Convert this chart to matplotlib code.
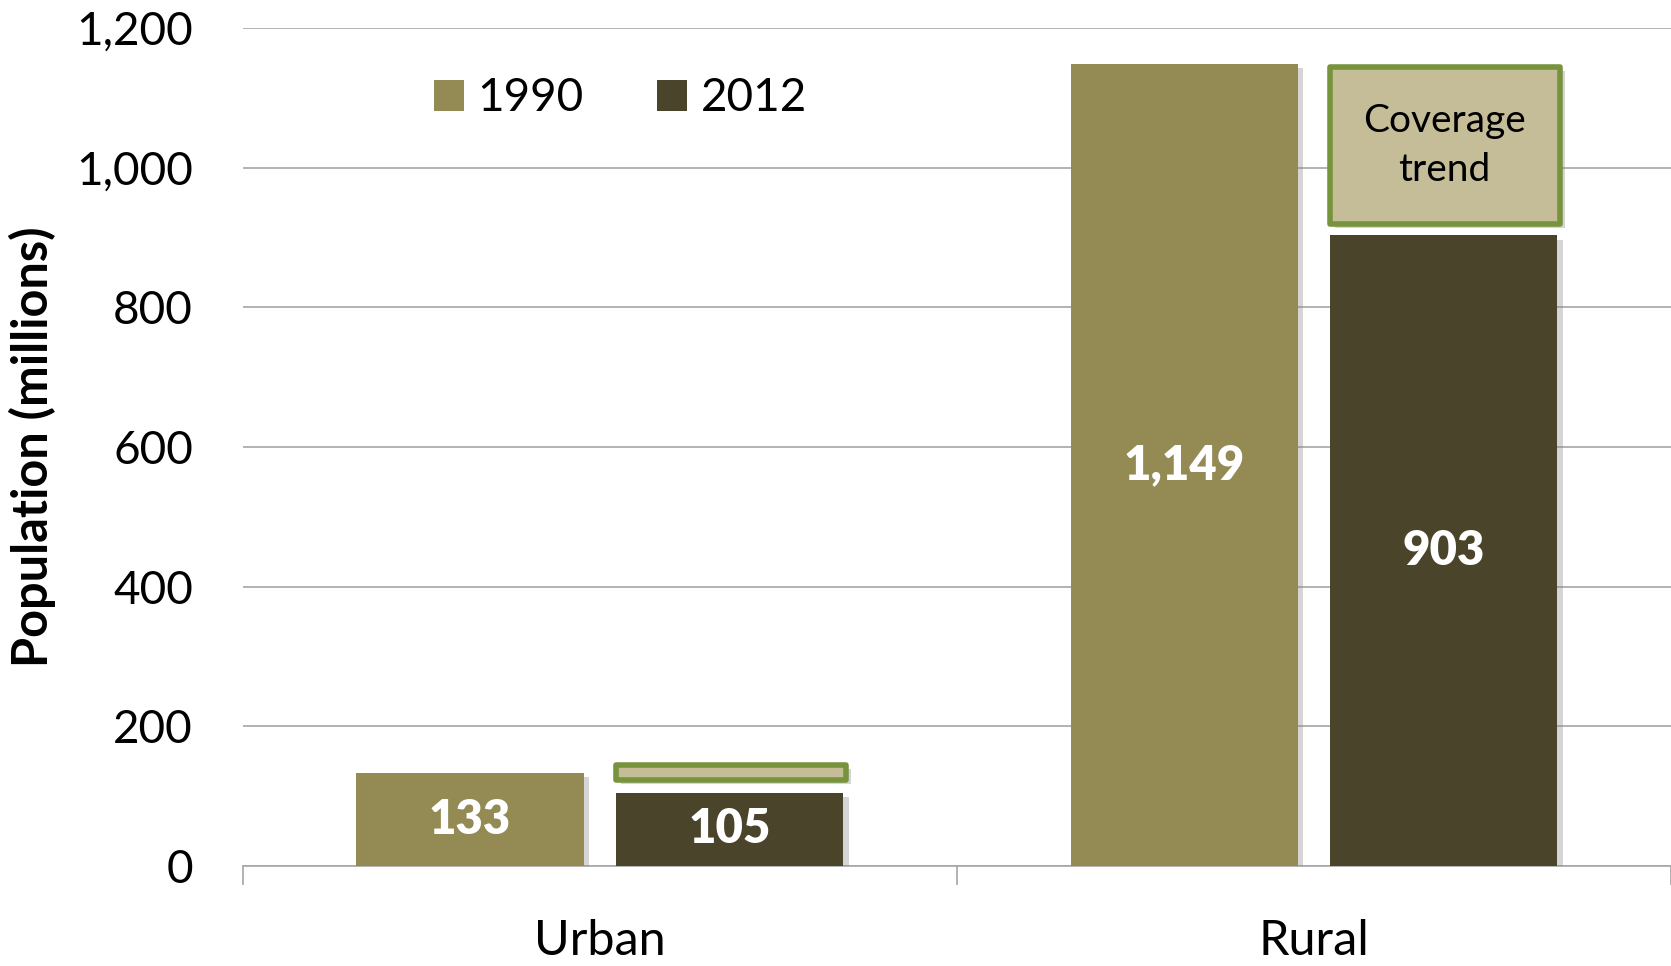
import numpy as np
import matplotlib.pyplot as plt
from matplotlib.patches import Rectangle
import matplotlib.patheffects as pe

plt.rcParams['font.family'] = ['Lato', 'DejaVu Sans']

categories = ['Urban', 'Rural']
years = ['1990', '2012']
pop_1990 = [133, 1149]
pop_2012 = [105, 903]
value_labels_1990 = ['133', '1,149']
value_labels_2012 = ['105', '903']
y_ticks = [0, 200, 400, 600, 800, 1000, 1200]
y_ticklabels = ['0', '200', '400', '600', '800', '1,000', '1,200']

# "Coverage trend" callout boxes over the 2012 bars (bottom, top in millions)
trend_box_bottom = [123, 920]
trend_box_top = [145, 1144]
trend_box_text = ['', 'Coverage\ntrend']

c1990 = '#948A54'
c2012 = '#4A452A'
box_fill = '#C4BD97'
box_edge = '#77933C'

fig = plt.figure(figsize=(16.71, 9.66), dpi=100)
ax = fig.add_axes([0.1454, 0.1035, 0.8546, 0.8675])

x = np.arange(len(categories))
w = 0.318
off = 0.182
shadow = [pe.SimplePatchShadow(offset=(4, -3), shadow_rgbFace='#888888', alpha=0.35), pe.Normal()]

b1 = ax.bar(x - off, pop_1990, w, color=c1990, label=years[0], zorder=3)
b2 = ax.bar(x + off, pop_2012, w, color=c2012, label=years[1], zorder=3)
for b in list(b1) + list(b2):
    b.set_path_effects(shadow)

for xi, v, s in zip(x - off, pop_1990, value_labels_1990):
    ax.text(xi, v / 2, s, ha='center', va='center', color='white',
            fontsize=34, fontweight='heavy', zorder=5)
for xi, v, s in zip(x + off, pop_2012, value_labels_2012):
    ax.text(xi, v / 2, s, ha='center', va='center', color='white',
            fontsize=34, fontweight='heavy', zorder=5)

for xi, lo, hi, s in zip(x + off, trend_box_bottom, trend_box_top, trend_box_text):
    r = Rectangle((xi - 0.16, lo), 0.322, hi - lo, facecolor=box_fill,
                  edgecolor=box_edge, linewidth=4, zorder=4, joinstyle='round')
    r.set_path_effects(shadow)
    ax.add_patch(r)
    if s:
        ax.text(xi + 0.001, (lo + hi) / 2, s, ha='center', va='center',
                fontsize=28, color='black', linespacing=1.45, zorder=5)

ax.set_xlim(-0.5, 1.5)
ax.set_ylim(0, 1200)
ax.set_yticks(y_ticks)
ax.set_yticklabels(y_ticklabels)
ax.yaxis.grid(True, color='#A6A6A6', linewidth=1.2, zorder=0)
ax.tick_params(axis='y', length=0, pad=36, labelsize=33)

ax.set_xticks(x)
ax.set_xticklabels(categories)
ax.set_xticks([-0.5, 0.5, 1.5], minor=True)
ax.tick_params(axis='x', which='major', length=0, pad=38, labelsize=35)
ax.tick_params(axis='x', which='minor', length=14, width=1.2, color='#A6A6A6')

for side in ['top', 'right', 'left']:
    ax.spines[side].set_visible(False)
ax.spines['bottom'].set_color('#A6A6A6')
ax.spines['bottom'].set_linewidth(1.2)

ax.set_ylabel('Population (millions)', fontsize=35, fontweight='bold')
ax.yaxis.set_label_coords(-0.131, 0.5)

leg = ax.legend(loc='center left', bbox_to_anchor=(0.105, 0.916), ncol=2, frameon=False,
                fontsize=33, handlelength=0.65, handleheight=0.65, handletextpad=0.3,
                columnspacing=1.6)
for h in leg.legend_handles:
    h.set_path_effects([])

fig.savefig('out.png', dpi=100)
